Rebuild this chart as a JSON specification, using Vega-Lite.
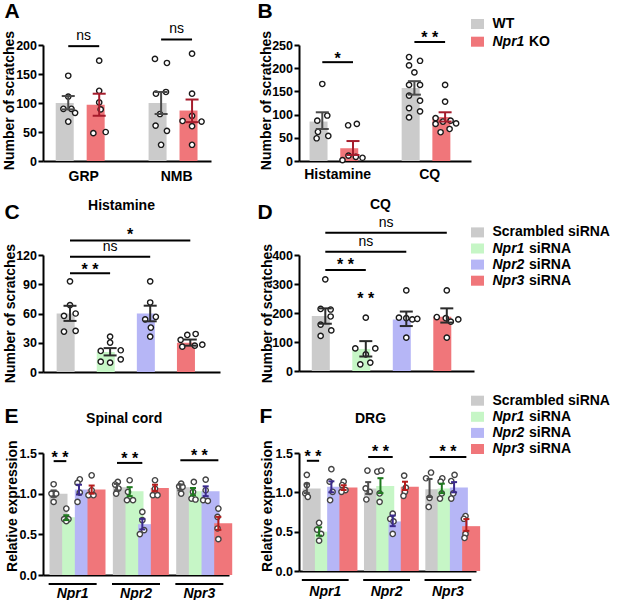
{
"$schema":"https://vega.github.io/schema/vega-lite/v6.json",
"background":"white",
"padding":{"left":1,"top":0,"right":0,"bottom":0},
"config":{"font":"Liberation Sans","view":{"stroke":null},
"axis":{"domainColor":"#000000","domainWidth":2,"tickColor":"#000000","tickWidth":2,"tickSize":5,"labelFontSize":14,"labelFontWeight":"bold","labelColor":"#000000","labelPadding":1,"titleFontSize":14,"titleFontWeight":"bold","titleColor":"#000000","grid":false,"zindex":1},
"axisY":{"labelFontSize":12.5,"labelPadding":1.5}},
"datasets":{
"aBars":[{"cat":"GRP|WT","cond":"WT","mean":100,"lo":89,"hi":112},{"cat":"GRP|KO","cond":"KO","mean":97,"lo":78,"hi":116},{"cat":"NMB|WT","cond":"WT","mean":100,"lo":81,"hi":119},{"cat":"NMB|KO","cond":"KO","mean":87,"lo":67,"hi":106}],
"aPts":[{"cat":"GRP|WT","v":147,"s":0},{"cat":"GRP|WT","v":111,"s":0},{"cat":"GRP|WT","v":90,"s":-0.97},{"cat":"GRP|WT","v":90,"s":0.63},{"cat":"GRP|WT","v":83,"s":1.37},{"cat":"GRP|WT","v":68,"s":0},
{"cat":"GRP|KO","v":173,"s":0},{"cat":"GRP|KO","v":121,"s":0},{"cat":"GRP|KO","v":101,"s":0},{"cat":"GRP|KO","v":89,"s":0.3},{"cat":"GRP|KO","v":48,"s":-1.17},{"cat":"GRP|KO","v":50,"s":1.3},
{"cat":"NMB|WT","v":176,"s":-1.23},{"cat":"NMB|WT","v":169,"s":1.17},{"cat":"NMB|WT","v":116,"s":-1.03},{"cat":"NMB|WT","v":119,"s":0.97},{"cat":"NMB|WT","v":81,"s":-0.23},{"cat":"NMB|WT","v":61,"s":-1.1},{"cat":"NMB|WT","v":52,"s":1.17},{"cat":"NMB|WT","v":28,"s":0},
{"cat":"NMB|KO","v":185,"s":0},{"cat":"NMB|KO","v":116,"s":0},{"cat":"NMB|KO","v":78,"s":0},{"cat":"NMB|KO","v":69,"s":-1.9},{"cat":"NMB|KO","v":68,"s":1.9},{"cat":"NMB|KO","v":60,"s":0},{"cat":"NMB|KO","v":28,"s":0}],
"aSig":[{"from":"GRP|WT","to":"GRP|KO","ly":198,"ty":209,"label":"ns","pos":"half","at":"GRP|WT"},{"from":"NMB|WT","to":"NMB|KO","ly":209.5,"ty":220,"label":"ns","pos":"half","at":"NMB|WT"}],
"bBars":[{"cat":"Histamine|WT","cond":"WT","mean":85,"lo":69,"hi":105},{"cat":"Histamine|KO","cond":"KO","mean":27.5,"lo":13,"hi":43},{"cat":"CQ|WT","cond":"WT","mean":157.5,"lo":143,"hi":172},{"cat":"CQ|KO","cond":"KO","mean":94.7,"lo":85,"hi":105}],
"bPts":[{"cat":"Histamine|WT","v":166,"s":0},{"cat":"Histamine|WT","v":98,"s":1},{"cat":"Histamine|WT","v":87,"s":-1},{"cat":"Histamine|WT","v":63,"s":-0.87},{"cat":"Histamine|WT","v":54,"s":1.2},{"cat":"Histamine|WT","v":49,"s":-1.13},
{"cat":"Histamine|KO","v":77,"s":-0.97},{"cat":"Histamine|KO","v":80,"s":0.77},{"cat":"Histamine|KO","v":2,"s":-2.1},{"cat":"Histamine|KO","v":11.5,"s":-0.9},{"cat":"Histamine|KO","v":9,"s":0.57},{"cat":"Histamine|KO","v":7,"s":1.9},
{"cat":"CQ|WT","v":224,"s":-1.07},{"cat":"CQ|WT","v":216,"s":1.13},{"cat":"CQ|WT","v":206,"s":-1.07},{"cat":"CQ|WT","v":191,"s":0},{"cat":"CQ|WT","v":164,"s":-1.07},{"cat":"CQ|WT","v":164,"s":1.13},{"cat":"CQ|WT","v":141,"s":-1.07},{"cat":"CQ|WT","v":130,"s":1.13},{"cat":"CQ|WT","v":114,"s":-1.07},{"cat":"CQ|WT","v":107,"s":1.13},{"cat":"CQ|WT","v":94,"s":-1.07},
{"cat":"CQ|KO","v":164,"s":0},{"cat":"CQ|KO","v":128,"s":0},{"cat":"CQ|KO","v":92.5,"s":-1.9},{"cat":"CQ|KO","v":85,"s":-0.43},{"cat":"CQ|KO","v":87,"s":1.1},{"cat":"CQ|KO","v":81,"s":2.2},{"cat":"CQ|KO","v":80,"s":-1.9},{"cat":"CQ|KO","v":62,"s":-0.9},{"cat":"CQ|KO","v":69,"s":0.9}],
"bSig":[{"from":"Histamine|WT","to":"Histamine|KO","ly":213,"ty":209,"label":"*","pos":"half","at":"Histamine|WT"},{"from":"CQ|WT","to":"CQ|KO","ly":256.5,"ty":254.8,"label":"* *","pos":"half","at":"CQ|WT"}],
"cBars":[{"cat":"Scrambled siRNA","mean":60,"lo":52.4,"hi":67.9},{"cat":"Npr1 siRNA","mean":20.5,"lo":17,"hi":24.5},{"cat":"Npr2 siRNA","mean":60,"lo":52,"hi":68},{"cat":"Npr3 siRNA","mean":30,"lo":27,"hi":33.3}],
"cPts":[{"cat":"Scrambled siRNA","v":93,"s":0},{"cat":"Scrambled siRNA","v":68.6,"s":0},{"cat":"Scrambled siRNA","v":57.6,"s":-1.2},{"cat":"Scrambled siRNA","v":60,"s":1.13},{"cat":"Scrambled siRNA","v":41.5,"s":-1.2},{"cat":"Scrambled siRNA","v":42.2,"s":1.13},
{"cat":"Npr1 siRNA","v":36.3,"s":0},{"cat":"Npr1 siRNA","v":30.2,"s":0},{"cat":"Npr1 siRNA","v":21.6,"s":-1.87},{"cat":"Npr1 siRNA","v":22.3,"s":2.13},{"cat":"Npr1 siRNA","v":10.6,"s":-1.87},{"cat":"Npr1 siRNA","v":9.6,"s":0},{"cat":"Npr1 siRNA","v":13,"s":2.13},
{"cat":"Npr2 siRNA","v":93,"s":0},{"cat":"Npr2 siRNA","v":71.3,"s":0},{"cat":"Npr2 siRNA","v":56.6,"s":1.13},{"cat":"Npr2 siRNA","v":54,"s":-1},{"cat":"Npr2 siRNA","v":45.6,"s":0.13},{"cat":"Npr2 siRNA","v":36.3,"s":0},
{"cat":"Npr3 siRNA","v":38,"s":-0.6},{"cat":"Npr3 siRNA","v":39,"s":1.07},{"cat":"Npr3 siRNA","v":33,"s":-1.93},{"cat":"Npr3 siRNA","v":26,"s":-1.6},{"cat":"Npr3 siRNA","v":27,"s":0.9},{"cat":"Npr3 siRNA","v":28,"s":2.4}],
"cSig":[{"from":"Scrambled siRNA","to":"Npr1 siRNA","ly":101.2,"ty":99.5,"label":"* *","pos":"half","at":"Scrambled siRNA"},{"from":"Scrambled siRNA","to":"Npr2 siRNA","ly":118.3,"ty":124,"label":"ns","pos":"center","at":"Npr1 siRNA"},{"from":"Scrambled siRNA","to":"Npr3 siRNA","ly":135,"ty":135.4,"label":"*","pos":"half","at":"Npr1 siRNA"}],
"dBars":[{"cat":"Scrambled siRNA","mean":190,"lo":163,"hi":216},{"cat":"Npr1 siRNA","mean":76,"lo":50,"hi":103},{"cat":"Npr2 siRNA","mean":178,"lo":155,"hi":205},{"cat":"Npr3 siRNA","mean":187,"lo":167,"hi":216}],
"dPts":[{"cat":"Scrambled siRNA","v":316,"s":0},{"cat":"Scrambled siRNA","v":214,"s":-0.93},{"cat":"Scrambled siRNA","v":212,"s":1.07},{"cat":"Scrambled siRNA","v":188,"s":1.07},{"cat":"Scrambled siRNA","v":160,"s":-0.93},{"cat":"Scrambled siRNA","v":140,"s":1.2},{"cat":"Scrambled siRNA","v":121,"s":-0.93},
{"cat":"Npr1 siRNA","v":184,"s":0},{"cat":"Npr1 siRNA","v":78,"s":-2.1},{"cat":"Npr1 siRNA","v":78,"s":1.9},{"cat":"Npr1 siRNA","v":57,"s":0},{"cat":"Npr1 siRNA","v":23,"s":-1.1},{"cat":"Npr1 siRNA","v":29,"s":0.9},
{"cat":"Npr2 siRNA","v":278,"s":0},{"cat":"Npr2 siRNA","v":184,"s":-1.47},{"cat":"Npr2 siRNA","v":182,"s":0},{"cat":"Npr2 siRNA","v":178,"s":1.2},{"cat":"Npr2 siRNA","v":180,"s":2.2},{"cat":"Npr2 siRNA","v":115,"s":0},
{"cat":"Npr3 siRNA","v":278,"s":0},{"cat":"Npr3 siRNA","v":186,"s":-2},{"cat":"Npr3 siRNA","v":182,"s":-0.2},{"cat":"Npr3 siRNA","v":178,"s":2.3},{"cat":"Npr3 siRNA","v":170,"s":0.8},{"cat":"Npr3 siRNA","v":115,"s":0}],
"dSig":[{"from":"Scrambled siRNA","to":"Npr1 siRNA","ly":348,"ty":347,"label":"* *","pos":"half","at":"Scrambled siRNA"},{"from":"Scrambled siRNA","to":"Npr2 siRNA","ly":411,"ty":431,"label":"ns","pos":"center","at":"Npr1 siRNA"},{"from":"Scrambled siRNA","to":"Npr3 siRNA","ly":477,"ty":496.5,"label":"ns","pos":"half","at":"Npr1 siRNA"},{"from":null,"to":null,"ly":null,"ty":232,"label":"* *","pos":"center","at":"Npr1 siRNA"}],
"eBars":[{"cat":"Npr1|Scr","cond":"Scrambled siRNA","mean":1.0,"lo":0.96,"hi":1.04},{"cat":"Npr1|N1","cond":"Npr1 siRNA","mean":0.71,"lo":0.675,"hi":0.735},{"cat":"Npr1|N2","cond":"Npr2 siRNA","mean":1.05,"lo":0.99,"hi":1.11},{"cat":"Npr1|N3","cond":"Npr3 siRNA","mean":1.05,"lo":1.0,"hi":1.1},
{"cat":"Npr2|Scr","cond":"Scrambled siRNA","mean":1.08,"lo":1.04,"hi":1.12},{"cat":"Npr2|N1","cond":"Npr1 siRNA","mean":1.03,"lo":0.97,"hi":1.08},{"cat":"Npr2|N2","cond":"Npr2 siRNA","mean":0.625,"lo":0.56,"hi":0.69},{"cat":"Npr2|N3","cond":"Npr3 siRNA","mean":1.07,"lo":1.03,"hi":1.11},
{"cat":"Npr3|Scr","cond":"Scrambled siRNA","mean":1.08,"lo":1.04,"hi":1.11},{"cat":"Npr3|N1","cond":"Npr1 siRNA","mean":1.03,"lo":0.98,"hi":1.07},{"cat":"Npr3|N2","cond":"Npr2 siRNA","mean":1.03,"lo":0.97,"hi":1.09},{"cat":"Npr3|N3","cond":"Npr3 siRNA","mean":0.635,"lo":0.555,"hi":0.715}],
"ePts":[{"cat":"Npr1|Scr","v":1.116,"s":0},{"cat":"Npr1|Scr","v":1.001,"s":-0.87},{"cat":"Npr1|Scr","v":1.0,"s":1},{"cat":"Npr1|Scr","v":0.899,"s":0},
{"cat":"Npr1|N1","v":0.817,"s":0},{"cat":"Npr1|N1","v":0.687,"s":-0.87},{"cat":"Npr1|N1","v":0.687,"s":0.87},{"cat":"Npr1|N1","v":0.662,"s":0},
{"cat":"Npr1|N2","v":1.177,"s":0.33},{"cat":"Npr1|N2","v":1.132,"s":-0.6},{"cat":"Npr1|N2","v":1.013,"s":0.33},{"cat":"Npr1|N2","v":0.899,"s":-0.6},
{"cat":"Npr1|N3","v":1.226,"s":0},{"cat":"Npr1|N3","v":1.042,"s":0},{"cat":"Npr1|N3","v":0.981,"s":-1.27},{"cat":"Npr1|N3","v":0.981,"s":0.73},
{"cat":"Npr2|Scr","v":1.144,"s":0.33},{"cat":"Npr2|Scr","v":1.112,"s":-0.73},{"cat":"Npr2|Scr","v":1.063,"s":0.6},{"cat":"Npr2|Scr","v":1.001,"s":-0.33},
{"cat":"Npr2|N1","v":1.165,"s":0},{"cat":"Npr2|N1","v":1.022,"s":-0.67},{"cat":"Npr2|N1","v":0.92,"s":-1.07},{"cat":"Npr2|N1","v":0.92,"s":1.33},
{"cat":"Npr2|N2","v":0.776,"s":0},{"cat":"Npr2|N2","v":0.674,"s":0},{"cat":"Npr2|N2","v":0.552,"s":0.73},{"cat":"Npr2|N2","v":0.503,"s":-1},
{"cat":"Npr2|N3","v":1.165,"s":0},{"cat":"Npr2|N3","v":1.063,"s":0},{"cat":"Npr2|N3","v":0.981,"s":-0.87},{"cat":"Npr2|N3","v":0.981,"s":1},
{"cat":"Npr3|Scr","v":1.124,"s":0.33},{"cat":"Npr3|Scr","v":1.091,"s":-0.47},{"cat":"Npr3|Scr","v":1.083,"s":0.87},{"cat":"Npr3|Scr","v":1.001,"s":0.33},
{"cat":"Npr3|N1","v":1.144,"s":0.33},{"cat":"Npr3|N1","v":1.022,"s":0},{"cat":"Npr3|N1","v":0.94,"s":-0.6},{"cat":"Npr3|N1","v":0.928,"s":1},
{"cat":"Npr3|N2","v":1.173,"s":0},{"cat":"Npr3|N2","v":1.042,"s":0},{"cat":"Npr3|N2","v":0.92,"s":-1},{"cat":"Npr3|N2","v":0.911,"s":0.87},
{"cat":"Npr3|N3","v":0.817,"s":0},{"cat":"Npr3|N3","v":0.715,"s":-0.33},{"cat":"Npr3|N3","v":0.572,"s":-0.33},{"cat":"Npr3|N3","v":0.441,"s":0}],
"eSig":[{"from":"Npr1|Scr","to":"Npr1|N1","ly":1.4,"ty":1.378,"label":"* *","pos":"half","at":"Npr1|Scr"},{"from":"Npr2|Scr","to":"Npr2|N2","ly":1.378,"ty":1.368,"label":"* *","pos":"center","at":"Npr2|N1"},{"from":"Npr3|Scr","to":"Npr3|N3","ly":1.41,"ty":1.399,"label":"* *","pos":"half","at":"Npr3|N1"}],
"fBars":[{"cat":"Npr1|Scr","cond":"Scrambled siRNA","mean":1.05,"lo":0.99,"hi":1.11},{"cat":"Npr1|N1","cond":"Npr1 siRNA","mean":0.5,"lo":0.45,"hi":0.555},{"cat":"Npr1|N2","cond":"Npr2 siRNA","mean":1.07,"lo":1.0,"hi":1.14},{"cat":"Npr1|N3","cond":"Npr3 siRNA","mean":1.06,"lo":1.03,"hi":1.09},
{"cat":"Npr2|Scr","cond":"Scrambled siRNA","mean":1.05,"lo":0.98,"hi":1.13},{"cat":"Npr2|N1","cond":"Npr1 siRNA","mean":1.08,"lo":0.99,"hi":1.18},{"cat":"Npr2|N2","cond":"Npr2 siRNA","mean":0.63,"lo":0.57,"hi":0.705},{"cat":"Npr2|N3","cond":"Npr3 siRNA","mean":1.07,"lo":1.03,"hi":1.135},
{"cat":"Npr3|Scr","cond":"Scrambled siRNA","mean":1.04,"lo":0.94,"hi":1.17},{"cat":"Npr3|N1","cond":"Npr1 siRNA","mean":1.05,"lo":0.99,"hi":1.11},{"cat":"Npr3|N2","cond":"Npr2 siRNA","mean":1.06,"lo":1.0,"hi":1.13},{"cat":"Npr3|N3","cond":"Npr3 siRNA","mean":0.57,"lo":0.51,"hi":0.66}],
"fPts":[{"cat":"Npr1|Scr","v":1.222,"s":0},{"cat":"Npr1|Scr","v":1.093,"s":0},{"cat":"Npr1|Scr","v":0.986,"s":-0.6},{"cat":"Npr1|Scr","v":0.943,"s":0.4},
{"cat":"Npr1|N1","v":0.613,"s":0},{"cat":"Npr1|N1","v":0.527,"s":-0.8},{"cat":"Npr1|N1","v":0.471,"s":0.8},{"cat":"Npr1|N1","v":0.386,"s":0},
{"cat":"Npr1|N2","v":1.294,"s":0},{"cat":"Npr1|N2","v":1.136,"s":-0.7},{"cat":"Npr1|N2","v":1.007,"s":0.5},{"cat":"Npr1|N2","v":0.9,"s":-0.5},
{"cat":"Npr1|N3","v":1.136,"s":0},{"cat":"Npr1|N3","v":1.093,"s":-0.6},{"cat":"Npr1|N3","v":1.029,"s":0.73},{"cat":"Npr1|N3","v":1.007,"s":-0.87},
{"cat":"Npr2|Scr","v":1.277,"s":-0.3},{"cat":"Npr2|Scr","v":1.05,"s":-1},{"cat":"Npr2|Scr","v":1.007,"s":0.6},{"cat":"Npr2|Scr","v":0.909,"s":-0.73},
{"cat":"Npr2|N1","v":1.264,"s":-1.27},{"cat":"Npr2|N1","v":1.277,"s":0.33},{"cat":"Npr2|N1","v":0.986,"s":-0.33},{"cat":"Npr2|N1","v":0.879,"s":-0.33},
{"cat":"Npr2|N2","v":0.729,"s":0},{"cat":"Npr2|N2","v":0.664,"s":-1},{"cat":"Npr2|N2","v":0.63,"s":0.33},{"cat":"Npr2|N2","v":0.471,"s":0},
{"cat":"Npr2|N3","v":1.213,"s":-0.33},{"cat":"Npr2|N3","v":1.059,"s":0.33},{"cat":"Npr2|N3","v":1.007,"s":0},{"cat":"Npr2|N3","v":0.956,"s":-0.6},
{"cat":"Npr3|Scr","v":1.252,"s":0.6},{"cat":"Npr3|Scr","v":1.179,"s":-1.4},{"cat":"Npr3|Scr","v":0.93,"s":0},{"cat":"Npr3|Scr","v":0.814,"s":-0.33},
{"cat":"Npr3|N1","v":1.179,"s":0.2},{"cat":"Npr3|N1","v":1.136,"s":-0.47},{"cat":"Npr3|N1","v":0.986,"s":0},{"cat":"Npr3|N1","v":0.921,"s":-0.73},
{"cat":"Npr3|N2","v":1.222,"s":0.2},{"cat":"Npr3|N2","v":1.144,"s":-1.13},{"cat":"Npr3|N2","v":0.986,"s":-0.33},{"cat":"Npr3|N2","v":0.921,"s":-1.13},
{"cat":"Npr3|N3","v":0.699,"s":-0.33},{"cat":"Npr3|N3","v":0.664,"s":-1},{"cat":"Npr3|N3","v":0.471,"s":-0.33},{"cat":"Npr3|N3","v":0.42,"s":-0.73}],
"fSig":[{"from":"Npr1|Scr","to":"Npr1|N1","ly":1.401,"ty":1.39,"label":"* *","pos":"half","at":"Npr1|Scr"},{"from":"Npr2|Scr","to":"Npr2|N2","ly":1.449,"ty":1.449,"label":"* *","pos":"center","at":"Npr2|N1"},{"from":"Npr3|Scr","to":"Npr3|N3","ly":1.449,"ty":1.449,"label":"* *","pos":"half","at":"Npr3|N1"}],
"genes":[{"from":"Npr1|Scr","to":"Npr1|N3"},{"from":"Npr2|Scr","to":"Npr2|N3"},{"from":"Npr3|Scr","to":"Npr3|N3"}],
"legB":[{"key":"WT","it":null,"tail":"WT"},{"key":"Npr1 KO","it":"Npr1","tail":"KO"}],
"legS":[{"key":"Scrambled siRNA","it":null,"tail":"Scrambled siRNA"},{"key":"Npr1 siRNA","it":"Npr1","tail":"siRNA"},{"key":"Npr2 siRNA","it":"Npr2","tail":"siRNA"},{"key":"Npr3 siRNA","it":"Npr3","tail":"siRNA"}]
},
"columns":3,
"bounds":"flush",
"align":"each",
"spacing":{"row":81,"column":70},
"resolve":{"scale":{"color":"independent","stroke":"independent","xOffset":"independent"}},
"concat":[
{"width":168,"height":116,
"layer":[
{"data":{"name":"aBars"},"mark":{"type":"bar"},
"encoding":{"x":{"field":"cat","type":"nominal","scale":{"domain":["GRP|WT","GRP|KO","gap","NMB|WT","NMB|KO"],"paddingInner":0.19,"paddingOuter":0.309,"align":0.665},
"axis":{"orient":"bottom","title":null,"ticks":false,"tickSize":0,"labelPadding":8,"labelAngle":0,"labelOffset":15.5,"labelOverlap":false,"labelExpr":"indexof(datum.value,'|WT')>0 ? split(datum.value,'|')[0] : ''"}},
"y":{"field":"mean","type":"quantitative","scale":{"domain":[0,200],"nice":false},"axis":{"title":"Number of scratches","values":[0,50,100,150,200],"titleX":-30,"titleY":55,"titleAngle":270,"titleAlign":"center","titleBaseline":"alphabetic"}},
"color":{"field":"cond","type":"nominal","scale":{"domain":["WT","KO"],"range":["#cbcbcb","#f0767a"]},"legend":null}}},
{"data":{"name":"aPts"},"mark":{"type":"point","filled":true,"fill":"#ffffff","stroke":"#1a1a1a","strokeWidth":1.4,"size":28,"opacity":1},
"encoding":{"x":{"field":"cat","type":"nominal","axis":{"orient":"top","title":"A","domain":false,"ticks":false,"labels":false,"titleFontSize":21,"titleX":-39,"titleY":-27.3,"titleAlign":"left","titleBaseline":"alphabetic","titleAngle":0}},
"xOffset":{"field":"s","type":"quantitative","scale":{"domain":[-2,2],"range":[2.53,22.53],"zero":false,"nice":false}},
"y":{"field":"v","type":"quantitative","axis":null}}},
{"data":{"name":"aBars"},"mark":{"type":"rule","strokeWidth":2},
"encoding":{"x":{"field":"cat","type":"nominal","axis":null},"y":{"field":"lo","type":"quantitative","axis":null},"y2":{"field":"hi"},
"stroke":{"field":"cond","type":"nominal","scale":{"domain":["WT","KO"],"range":["#4a4a4a","#a51c2c"]},"legend":null}}},
{"data":{"name":"aBars"},"mark":{"type":"rule","strokeWidth":2,"xOffset":-6.5,"x2Offset":6.5},
"encoding":{"x":{"field":"cat","type":"nominal","axis":null},"x2":{"field":"cat"},"y":{"field":"lo","type":"quantitative","axis":null},"stroke":{"field":"cond","type":"nominal","legend":null}}},
{"data":{"name":"aBars"},"mark":{"type":"rule","strokeWidth":2,"xOffset":-6.5,"x2Offset":6.5},
"encoding":{"x":{"field":"cat","type":"nominal","axis":null},"x2":{"field":"cat"},"y":{"field":"hi","type":"quantitative","axis":null},"stroke":{"field":"cond","type":"nominal","legend":null}}},
{"data":{"name":"aSig"},"mark":{"type":"rule","strokeWidth":2,"color":"#000000"},
"encoding":{"x":{"field":"from","type":"nominal","axis":null},"x2":{"field":"to"},"y":{"field":"ly","type":"quantitative","axis":null}}},
{"data":{"name":"aSig"},"transform":[{"filter":"datum.label == 'ns' && datum.pos == 'half'"}],"mark":{"type":"text","fontSize":14,"fontWeight":"normal","baseline":"alphabetic","align":"center","color":"#000000"},
"encoding":{"x":{"field":"at","type":"nominal","bandPosition":1.117,"axis":null},"y":{"field":"ty","type":"quantitative","axis":null},"text":{"field":"label"}}}
],
"resolve":{"axis":{"x":"independent","y":"independent"}}},

{"width":172,"height":116,
"layer":[
{"data":{"name":"bBars"},"mark":{"type":"bar"},
"encoding":{"x":{"field":"cat","type":"nominal","scale":{"domain":["Histamine|WT","Histamine|KO","gap","CQ|WT","CQ|KO"],"paddingInner":0.17,"paddingOuter":0.386,"align":0.445},
"axis":{"orient":"bottom","title":null,"ticks":false,"tickSize":0,"labelPadding":6,"labelAngle":0,"labelOffset":15.35,"labelOverlap":false,"labelExpr":"indexof(datum.value,'|WT')>0 ? split(datum.value,'|')[0] : ''"}},
"y":{"field":"mean","type":"quantitative","scale":{"domain":[0,250],"nice":false},"axis":{"title":"Number of scratches","values":[0,50,100,150,200,250],"titleX":-29,"titleY":55,"titleAngle":270,"titleAlign":"center","titleBaseline":"alphabetic"}},
"color":{"field":"cond","type":"nominal","scale":{"domain":["WT","KO"],"range":["#cbcbcb","#f0767a"]},"legend":null}}},
{"data":{"name":"bPts"},"mark":{"type":"point","filled":true,"fill":"#ffffff","stroke":"#1a1a1a","strokeWidth":1.4,"size":28,"opacity":1},
"encoding":{"x":{"field":"cat","type":"nominal","axis":{"orient":"top","title":"B","domain":false,"ticks":false,"labels":false,"titleFontSize":21,"titleX":-42,"titleY":-27.3,"titleAlign":"left","titleBaseline":"alphabetic","titleAngle":0}},
"xOffset":{"field":"s","type":"quantitative","scale":{"domain":[-2,2],"range":[2.74,22.74],"zero":false,"nice":false}},
"y":{"field":"v","type":"quantitative","axis":null}}},
{"data":{"name":"bBars"},"mark":{"type":"rule","strokeWidth":2},
"encoding":{"x":{"field":"cat","type":"nominal","axis":null},"y":{"field":"lo","type":"quantitative","axis":null},"y2":{"field":"hi"},
"stroke":{"field":"cond","type":"nominal","scale":{"domain":["WT","KO"],"range":["#4a4a4a","#a51c2c"]},"legend":null}}},
{"data":{"name":"bBars"},"mark":{"type":"rule","strokeWidth":2,"xOffset":-6.5,"x2Offset":6.5},
"encoding":{"x":{"field":"cat","type":"nominal","axis":null},"x2":{"field":"cat"},"y":{"field":"lo","type":"quantitative","axis":null},"stroke":{"field":"cond","type":"nominal","legend":null}}},
{"data":{"name":"bBars"},"mark":{"type":"rule","strokeWidth":2,"xOffset":-6.5,"x2Offset":6.5},
"encoding":{"x":{"field":"cat","type":"nominal","axis":null},"x2":{"field":"cat"},"y":{"field":"hi","type":"quantitative","axis":null},"stroke":{"field":"cond","type":"nominal","legend":null}}},
{"data":{"name":"bSig"},"mark":{"type":"rule","strokeWidth":2,"color":"#000000"},
"encoding":{"x":{"field":"from","type":"nominal","axis":null},"x2":{"field":"to"},"y":{"field":"ly","type":"quantitative","axis":null}}},
{"data":{"name":"bSig"},"transform":[{"filter":"datum.label != 'ns' && datum.pos == 'half'"}],"mark":{"type":"text","fontSize":16,"fontWeight":"bold","baseline":"alphabetic","align":"center","color":"#000000"},
"encoding":{"x":{"field":"at","type":"nominal","bandPosition":1.102,"axis":null},"y":{"field":"ty","type":"quantitative","axis":null},"text":{"field":"label"}}}
],
"resolve":{"axis":{"x":"independent","y":"independent"}}},

{"width":10,"height":129,
"data":{"name":"legB"},
"encoding":{"x":{"datum":0,"type":"quantitative","scale":{"domain":[0,1]},"axis":null},
"y":{"field":"key","type":"nominal","scale":{"type":"point","domain":["WT","Npr1 KO"],"range":[-21,-3.3],"padding":0},"axis":null}},
"layer":[
{"mark":{"type":"point","shape":"M-1,-0.77L1,-0.77L1,0.77L-1,0.77Z","filled":true,"size":169,"opacity":1,"xOffset":-68.5},
"encoding":{"color":{"field":"key","type":"nominal","scale":{"domain":["WT","Npr1 KO"],"range":["#cbcbcb","#f0767a"]},"legend":null}}},
{"transform":[{"filter":"datum.it == null"}],"mark":{"type":"text","align":"left","baseline":"middle","fontSize":14,"fontWeight":"bold","color":"#000000","xOffset":-53.5},"encoding":{"text":{"field":"tail"}}},
{"transform":[{"filter":"datum.it != null"}],"mark":{"type":"text","align":"left","baseline":"middle","fontSize":14,"fontWeight":"bold","fontStyle":"italic","color":"#000000","xOffset":-53.5},"encoding":{"text":{"field":"it"}}},
{"transform":[{"filter":"datum.it != null"}],"mark":{"type":"text","align":"left","baseline":"middle","fontSize":14,"fontWeight":"bold","color":"#000000","xOffset":-17},"encoding":{"text":{"field":"tail"}}}
]},

{"width":177,"height":117,
"layer":[
{"data":{"name":"cBars"},"mark":{"type":"bar"},
"encoding":{"x":{"field":"cat","type":"nominal","scale":{"domain":["Scrambled siRNA","Npr1 siRNA","Npr2 siRNA","Npr3 siRNA"],"paddingInner":0.334,"paddingOuter":0.374,"align":0.455},
"axis":{"orient":"bottom","title":null,"ticks":false,"labels":false}},
"y":{"field":"mean","type":"quantitative","scale":{"domain":[0,120],"nice":false},"axis":{"title":"Number of scratches","values":[0,30,60,90,120],"titleX":-29,"titleY":58,"titleAngle":270,"titleAlign":"center","titleBaseline":"alphabetic"}},
"color":{"field":"cat","type":"nominal","scale":{"domain":["Scrambled siRNA","Npr1 siRNA","Npr2 siRNA","Npr3 siRNA"],"range":["#cbcbcb","#c6f6c6","#b6b6f6","#f0767a"]},"legend":null}}},
{"data":{"name":"cPts"},"mark":{"type":"point","filled":true,"fill":"#ffffff","stroke":"#1a1a1a","strokeWidth":1.4,"size":28,"opacity":1},
"encoding":{"x":{"field":"cat","type":"nominal","axis":{"orient":"top","title":"C","domain":false,"ticks":false,"labels":false,"titleFontSize":21,"titleX":-39,"titleY":-36.3,"titleAlign":"left","titleBaseline":"alphabetic","titleAngle":0}},
"xOffset":{"field":"s","type":"quantitative","scale":{"domain":[-2,2],"range":[3.35,23.35],"zero":false,"nice":false}},
"y":{"field":"v","type":"quantitative","axis":null}}},
{"data":{"name":"cBars"},"mark":{"type":"rule","strokeWidth":2,"color":"#2b2b2b"},
"encoding":{"x":{"field":"cat","type":"nominal","axis":{"orient":"top","title":"Histamine","domain":false,"ticks":false,"labels":false,"titleFontSize":14,"titleX":78,"titleY":-46,"titleAlign":"center","titleBaseline":"alphabetic","titleAngle":0}},"y":{"field":"lo","type":"quantitative","axis":null},"y2":{"field":"hi"}}},
{"data":{"name":"cBars"},"mark":{"type":"rule","strokeWidth":2,"color":"#2b2b2b","xOffset":-6.5,"x2Offset":6.5},
"encoding":{"x":{"field":"cat","type":"nominal","axis":null},"x2":{"field":"cat"},"y":{"field":"lo","type":"quantitative","axis":null}}},
{"data":{"name":"cBars"},"mark":{"type":"rule","strokeWidth":2,"color":"#2b2b2b","xOffset":-6.5,"x2Offset":6.5},
"encoding":{"x":{"field":"cat","type":"nominal","axis":null},"x2":{"field":"cat"},"y":{"field":"hi","type":"quantitative","axis":null}}},
{"data":{"name":"cSig"},"mark":{"type":"rule","strokeWidth":2,"color":"#000000"},
"encoding":{"x":{"field":"from","type":"nominal","axis":null},"x2":{"field":"to"},"y":{"field":"ly","type":"quantitative","axis":null}}},
{"data":{"name":"cSig"},"transform":[{"filter":"datum.label != 'ns' && datum.pos == 'half'"}],"mark":{"type":"text","fontSize":16,"fontWeight":"bold","baseline":"alphabetic","align":"center","color":"#000000"},
"encoding":{"x":{"field":"at","type":"nominal","bandPosition":1.251,"axis":null},"y":{"field":"ty","type":"quantitative","axis":null},"text":{"field":"label"}}},
{"data":{"name":"cSig"},"transform":[{"filter":"datum.label == 'ns' && datum.pos == 'center'"}],"mark":{"type":"text","fontSize":14,"fontWeight":"normal","baseline":"alphabetic","align":"center","color":"#000000"},
"encoding":{"x":{"field":"at","type":"nominal","bandPosition":0.5,"axis":null},"y":{"field":"ty","type":"quantitative","axis":null},"text":{"field":"label"}}}
],
"resolve":{"axis":{"x":"independent","y":"independent"}}},

{"width":175,"height":116,
"layer":[
{"data":{"name":"dBars"},"mark":{"type":"bar"},
"encoding":{"x":{"field":"cat","type":"nominal","scale":{"domain":["Scrambled siRNA","Npr1 siRNA","Npr2 siRNA","Npr3 siRNA"],"paddingInner":0.333,"paddingOuter":0.327,"align":0.483},
"axis":{"orient":"bottom","title":null,"ticks":false,"labels":false}},
"y":{"field":"mean","type":"quantitative","scale":{"domain":[0,400],"nice":false},"axis":{"title":"Number of scratches","values":[0,100,200,300,400],"titleX":-28,"titleY":58,"titleAngle":270,"titleAlign":"center","titleBaseline":"alphabetic"}},
"color":{"field":"cat","type":"nominal","scale":{"domain":["Scrambled siRNA","Npr1 siRNA","Npr2 siRNA","Npr3 siRNA"],"range":["#cbcbcb","#c6f6c6","#b6b6f6","#f0767a"]},"legend":null}}},
{"data":{"name":"dPts"},"mark":{"type":"point","filled":true,"fill":"#ffffff","stroke":"#1a1a1a","strokeWidth":1.4,"size":28,"opacity":1},
"encoding":{"x":{"field":"cat","type":"nominal","axis":{"orient":"top","title":"D","domain":false,"ticks":false,"labels":false,"titleFontSize":21,"titleX":-42,"titleY":-36.3,"titleAlign":"left","titleBaseline":"alphabetic","titleAngle":0}},
"xOffset":{"field":"s","type":"quantitative","scale":{"domain":[-2,2],"range":[3.5,23.5],"zero":false,"nice":false}},
"y":{"field":"v","type":"quantitative","axis":null}}},
{"data":{"name":"dBars"},"mark":{"type":"rule","strokeWidth":2,"color":"#2b2b2b"},
"encoding":{"x":{"field":"cat","type":"nominal","axis":{"orient":"top","title":"CQ","domain":false,"ticks":false,"labels":false,"titleFontSize":14,"titleX":81,"titleY":-46.3,"titleAlign":"center","titleBaseline":"alphabetic","titleAngle":0}},"y":{"field":"lo","type":"quantitative","axis":null},"y2":{"field":"hi"}}},
{"data":{"name":"dBars"},"mark":{"type":"rule","strokeWidth":2,"color":"#2b2b2b","xOffset":-6.5,"x2Offset":6.5},
"encoding":{"x":{"field":"cat","type":"nominal","axis":null},"x2":{"field":"cat"},"y":{"field":"lo","type":"quantitative","axis":null}}},
{"data":{"name":"dBars"},"mark":{"type":"rule","strokeWidth":2,"color":"#2b2b2b","xOffset":-6.5,"x2Offset":6.5},
"encoding":{"x":{"field":"cat","type":"nominal","axis":null},"x2":{"field":"cat"},"y":{"field":"hi","type":"quantitative","axis":null}}},
{"data":{"name":"dSig"},"transform":[{"filter":"datum.from != null"}],"mark":{"type":"rule","strokeWidth":2,"color":"#000000"},
"encoding":{"x":{"field":"from","type":"nominal","axis":null},"x2":{"field":"to"},"y":{"field":"ly","type":"quantitative","axis":null}}},
{"data":{"name":"dSig"},"transform":[{"filter":"datum.label != 'ns' && datum.pos == 'half'"}],"mark":{"type":"text","fontSize":16,"fontWeight":"bold","baseline":"alphabetic","align":"center","color":"#000000"},
"encoding":{"x":{"field":"at","type":"nominal","bandPosition":1.25,"axis":null},"y":{"field":"ty","type":"quantitative","axis":null},"text":{"field":"label"}}},
{"data":{"name":"dSig"},"transform":[{"filter":"datum.label != 'ns' && datum.pos == 'center'"}],"mark":{"type":"text","fontSize":16,"fontWeight":"bold","baseline":"alphabetic","align":"center","color":"#000000"},
"encoding":{"x":{"field":"at","type":"nominal","bandPosition":0.5,"axis":null},"y":{"field":"ty","type":"quantitative","axis":null},"text":{"field":"label"}}},
{"data":{"name":"dSig"},"transform":[{"filter":"datum.label == 'ns' && datum.pos == 'half'"}],"mark":{"type":"text","fontSize":14,"fontWeight":"normal","baseline":"alphabetic","align":"center","color":"#000000"},
"encoding":{"x":{"field":"at","type":"nominal","bandPosition":1.25,"axis":null},"y":{"field":"ty","type":"quantitative","axis":null},"text":{"field":"label"}}},
{"data":{"name":"dSig"},"transform":[{"filter":"datum.label == 'ns' && datum.pos == 'center'"}],"mark":{"type":"text","fontSize":14,"fontWeight":"normal","baseline":"alphabetic","align":"center","color":"#000000"},
"encoding":{"x":{"field":"at","type":"nominal","bandPosition":0.5,"axis":null},"y":{"field":"ty","type":"quantitative","axis":null},"text":{"field":"label"}}}
],
"resolve":{"axis":{"x":"independent","y":"independent"}}},

{"width":10,"height":100,
"data":{"name":"legS"},
"encoding":{"x":{"datum":0,"type":"quantitative","scale":{"domain":[0,1]},"axis":null},
"y":{"field":"key","type":"nominal","scale":{"type":"point","domain":["Scrambled siRNA","Npr1 siRNA","Npr2 siRNA","Npr3 siRNA"],"range":[-22.6,25.7],"padding":0},"axis":null}},
"layer":[
{"mark":{"type":"point","shape":"M-1,-0.77L1,-0.77L1,0.77L-1,0.77Z","filled":true,"size":169,"opacity":1,"xOffset":-68.5},
"encoding":{"color":{"field":"key","type":"nominal","scale":{"domain":["Scrambled siRNA","Npr1 siRNA","Npr2 siRNA","Npr3 siRNA"],"range":["#cbcbcb","#c6f6c6","#b6b6f6","#f0767a"]},"legend":null}}},
{"transform":[{"filter":"datum.it == null"}],"mark":{"type":"text","align":"left","baseline":"middle","fontSize":14,"fontWeight":"bold","color":"#000000","xOffset":-53.5},"encoding":{"text":{"field":"tail"}}},
{"transform":[{"filter":"datum.it != null"}],"mark":{"type":"text","align":"left","baseline":"middle","fontSize":14,"fontWeight":"bold","fontStyle":"italic","color":"#000000","xOffset":-53.5},"encoding":{"text":{"field":"it"}}},
{"transform":[{"filter":"datum.it != null"}],"mark":{"type":"text","align":"left","baseline":"middle","fontSize":14,"fontWeight":"bold","color":"#000000","xOffset":-17},"encoding":{"text":{"field":"tail"}}}
]},

{"width":186,"height":122,
"layer":[
{"data":{"name":"eBars"},"mark":{"type":"bar"},
"encoding":{"x":{"field":"cat","type":"nominal","scale":{"domain":["Npr1|Scr","Npr1|N1","Npr1|N2","Npr1|N3","g1","Npr2|Scr","Npr2|N1","Npr2|N2","Npr2|N3","g2","Npr3|Scr","Npr3|N1","Npr3|N2","Npr3|N3"],"paddingInner":0.345,"paddingOuter":0.5125,"align":0.5},
"axis":{"orient":"bottom","title":null,"ticks":false,"tickSize":0,"labelPadding":11,"labelAngle":0,"labelOffset":6.34,"labelOverlap":false,"labelFontStyle":"italic","labelExpr":"indexof(datum.value,'|N1')>0 ? split(datum.value,'|')[0] : ''"}},
"y":{"field":"mean","type":"quantitative","scale":{"domain":[0,1.5],"nice":false},"axis":{"title":"Relative expression","values":[0,0.5,1,1.5],"format":".1f","titleX":-27,"titleY":52.7,"titleAngle":270,"titleAlign":"center","titleBaseline":"alphabetic"}},
"color":{"field":"cond","type":"nominal","scale":{"domain":["Scrambled siRNA","Npr1 siRNA","Npr2 siRNA","Npr3 siRNA"],"range":["#cbcbcb","#c6f6c6","#b6b6f6","#f0767a"]},"legend":null}}},
{"data":{"name":"ePts"},"mark":{"type":"point","filled":true,"fill":"#ffffff","stroke":"#444444","strokeWidth":1.4,"size":28,"opacity":1},
"encoding":{"x":{"field":"cat","type":"nominal","axis":{"orient":"top","title":"E","domain":false,"ticks":false,"labels":false,"titleFontSize":21,"titleX":-39,"titleY":-30.6,"titleAlign":"left","titleBaseline":"alphabetic","titleAngle":0}},
"xOffset":{"field":"s","type":"quantitative","scale":{"domain":[-2,2],"range":[-0.85,9.15],"zero":false,"nice":false}},
"y":{"field":"v","type":"quantitative","axis":null}}},
{"data":{"name":"eBars"},"mark":{"type":"rule","strokeWidth":2},
"encoding":{"x":{"field":"cat","type":"nominal","axis":{"orient":"top","title":"Spinal cord","domain":false,"ticks":false,"labels":false,"titleFontSize":14,"titleX":80.7,"titleY":-30.6,"titleAlign":"center","titleBaseline":"alphabetic","titleAngle":0}},"y":{"field":"lo","type":"quantitative","axis":null},"y2":{"field":"hi"},
"stroke":{"field":"cond","type":"nominal","scale":{"domain":["Scrambled siRNA","Npr1 siRNA","Npr2 siRNA","Npr3 siRNA"],"range":["#4d4d4d","#1f7a1f","#3b2a8c","#b51c1c"]},"legend":null}}},
{"data":{"name":"eBars"},"mark":{"type":"rule","strokeWidth":2,"xOffset":-3,"x2Offset":3},
"encoding":{"x":{"field":"cat","type":"nominal","axis":null},"x2":{"field":"cat"},"y":{"field":"lo","type":"quantitative","axis":null},"stroke":{"field":"cond","type":"nominal","legend":null}}},
{"data":{"name":"eBars"},"mark":{"type":"rule","strokeWidth":2,"xOffset":-3,"x2Offset":3},
"encoding":{"x":{"field":"cat","type":"nominal","axis":null},"x2":{"field":"cat"},"y":{"field":"hi","type":"quantitative","axis":null},"stroke":{"field":"cond","type":"nominal","legend":null}}},
{"data":{"name":"eSig"},"mark":{"type":"rule","strokeWidth":2,"color":"#000000"},
"encoding":{"x":{"field":"from","type":"nominal","axis":null},"x2":{"field":"to"},"y":{"field":"ly","type":"quantitative","axis":null}}},
{"data":{"name":"genes"},"mark":{"type":"rule","strokeWidth":2,"color":"#000000","xOffset":-5,"x2Offset":5,"yOffset":9},
"encoding":{"x":{"field":"from","type":"nominal","axis":null},"x2":{"field":"to"},"y":{"datum":0,"type":"quantitative","axis":null}}},
{"data":{"name":"eSig"},"transform":[{"filter":"datum.label != 'ns' && datum.pos == 'half'"}],"mark":{"type":"text","fontSize":16,"fontWeight":"bold","baseline":"alphabetic","align":"center","color":"#000000"},
"encoding":{"x":{"field":"at","type":"nominal","bandPosition":1.263,"axis":null},"y":{"field":"ty","type":"quantitative","axis":null},"text":{"field":"label"}}},
{"data":{"name":"eSig"},"transform":[{"filter":"datum.label != 'ns' && datum.pos == 'center'"}],"mark":{"type":"text","fontSize":16,"fontWeight":"bold","baseline":"alphabetic","align":"center","color":"#000000"},
"encoding":{"x":{"field":"at","type":"nominal","bandPosition":0.5,"axis":null},"y":{"field":"ty","type":"quantitative","axis":null},"text":{"field":"label"}}}
],
"resolve":{"axis":{"x":"independent","y":"independent"}}},

{"width":177,"height":118,
"layer":[
{"data":{"name":"fBars"},"mark":{"type":"bar"},
"encoding":{"x":{"field":"cat","type":"nominal","scale":{"domain":["Npr1|Scr","Npr1|N1","Npr1|N2","Npr1|N3","g1","Npr2|Scr","Npr2|N1","Npr2|N2","Npr2|N3","g2","Npr3|Scr","Npr3|N1","Npr3|N2","Npr3|N3"],"paddingInner":0.315,"paddingOuter":0.37,"align":0.4},
"axis":{"orient":"bottom","title":null,"ticks":false,"tickSize":0,"labelPadding":13,"labelAngle":0,"labelOffset":6.14,"labelOverlap":false,"labelFontStyle":"italic","labelExpr":"indexof(datum.value,'|N1')>0 ? split(datum.value,'|')[0] : ''"}},
"y":{"field":"mean","type":"quantitative","scale":{"domain":[0,1.5],"nice":false},"axis":{"title":"Relative expression","values":[0,0.5,1,1.5],"format":".1f","titleX":-28,"titleY":52.7,"titleAngle":270,"titleAlign":"center","titleBaseline":"alphabetic"}},
"color":{"field":"cond","type":"nominal","scale":{"domain":["Scrambled siRNA","Npr1 siRNA","Npr2 siRNA","Npr3 siRNA"],"range":["#cbcbcb","#c6f6c6","#b6b6f6","#f0767a"]},"legend":null}}},
{"data":{"name":"fPts"},"mark":{"type":"point","filled":true,"fill":"#ffffff","stroke":"#444444","strokeWidth":1.4,"size":28,"opacity":1},
"encoding":{"x":{"field":"cat","type":"nominal","axis":{"orient":"top","title":"F","domain":false,"ticks":false,"labels":false,"titleFontSize":21,"titleX":-40,"titleY":-30.6,"titleAlign":"left","titleBaseline":"alphabetic","titleAngle":0}},
"xOffset":{"field":"s","type":"quantitative","scale":{"domain":[-2,2],"range":[-0.8,9.2],"zero":false,"nice":false}},
"y":{"field":"v","type":"quantitative","axis":null}}},
{"data":{"name":"fBars"},"mark":{"type":"rule","strokeWidth":2},
"encoding":{"x":{"field":"cat","type":"nominal","axis":{"orient":"top","title":"DRG","domain":false,"ticks":false,"labels":false,"titleFontSize":14,"titleX":71,"titleY":-30.3,"titleAlign":"center","titleBaseline":"alphabetic","titleAngle":0}},"y":{"field":"lo","type":"quantitative","axis":null},"y2":{"field":"hi"},
"stroke":{"field":"cond","type":"nominal","scale":{"domain":["Scrambled siRNA","Npr1 siRNA","Npr2 siRNA","Npr3 siRNA"],"range":["#4d4d4d","#1f7a1f","#3b2a8c","#b51c1c"]},"legend":null}}},
{"data":{"name":"fBars"},"mark":{"type":"rule","strokeWidth":2,"xOffset":-3,"x2Offset":3},
"encoding":{"x":{"field":"cat","type":"nominal","axis":null},"x2":{"field":"cat"},"y":{"field":"lo","type":"quantitative","axis":null},"stroke":{"field":"cond","type":"nominal","legend":null}}},
{"data":{"name":"fBars"},"mark":{"type":"rule","strokeWidth":2,"xOffset":-3,"x2Offset":3},
"encoding":{"x":{"field":"cat","type":"nominal","axis":null},"x2":{"field":"cat"},"y":{"field":"hi","type":"quantitative","axis":null},"stroke":{"field":"cond","type":"nominal","legend":null}}},
{"data":{"name":"fSig"},"mark":{"type":"rule","strokeWidth":2,"color":"#000000"},
"encoding":{"x":{"field":"from","type":"nominal","axis":null},"x2":{"field":"to"},"y":{"field":"ly","type":"quantitative","axis":null}}},
{"data":{"name":"genes"},"mark":{"type":"rule","strokeWidth":2,"color":"#000000","xOffset":-5,"x2Offset":5,"yOffset":9},
"encoding":{"x":{"field":"from","type":"nominal","axis":null},"x2":{"field":"to"},"y":{"datum":0,"type":"quantitative","axis":null}}},
{"data":{"name":"fSig"},"transform":[{"filter":"datum.label != 'ns' && datum.pos == 'half'"}],"mark":{"type":"text","fontSize":16,"fontWeight":"bold","baseline":"alphabetic","align":"center","color":"#000000"},
"encoding":{"x":{"field":"at","type":"nominal","bandPosition":1.23,"axis":null},"y":{"field":"ty","type":"quantitative","axis":null},"text":{"field":"label"}}},
{"data":{"name":"fSig"},"transform":[{"filter":"datum.label != 'ns' && datum.pos == 'center'"}],"mark":{"type":"text","fontSize":16,"fontWeight":"bold","baseline":"alphabetic","align":"center","color":"#000000"},
"encoding":{"x":{"field":"at","type":"nominal","bandPosition":0.5,"axis":null},"y":{"field":"ty","type":"quantitative","axis":null},"text":{"field":"label"}}}
],
"resolve":{"axis":{"x":"independent","y":"independent"}}},

{"width":10,"height":100,
"data":{"name":"legS"},
"encoding":{"x":{"datum":0,"type":"quantitative","scale":{"domain":[0,1]},"axis":null},
"y":{"field":"key","type":"nominal","scale":{"type":"point","domain":["Scrambled siRNA","Npr1 siRNA","Npr2 siRNA","Npr3 siRNA"],"range":[-52.3,-4],"padding":0},"axis":null}},
"layer":[
{"mark":{"type":"point","shape":"M-1,-0.77L1,-0.77L1,0.77L-1,0.77Z","filled":true,"size":169,"opacity":1,"xOffset":-68.5},
"encoding":{"color":{"field":"key","type":"nominal","scale":{"domain":["Scrambled siRNA","Npr1 siRNA","Npr2 siRNA","Npr3 siRNA"],"range":["#cbcbcb","#c6f6c6","#b6b6f6","#f0767a"]},"legend":null}}},
{"transform":[{"filter":"datum.it == null"}],"mark":{"type":"text","align":"left","baseline":"middle","fontSize":14,"fontWeight":"bold","color":"#000000","xOffset":-53.5},"encoding":{"text":{"field":"tail"}}},
{"transform":[{"filter":"datum.it != null"}],"mark":{"type":"text","align":"left","baseline":"middle","fontSize":14,"fontWeight":"bold","fontStyle":"italic","color":"#000000","xOffset":-53.5},"encoding":{"text":{"field":"it"}}},
{"transform":[{"filter":"datum.it != null"}],"mark":{"type":"text","align":"left","baseline":"middle","fontSize":14,"fontWeight":"bold","color":"#000000","xOffset":-17},"encoding":{"text":{"field":"tail"}}}
]}
]
}
